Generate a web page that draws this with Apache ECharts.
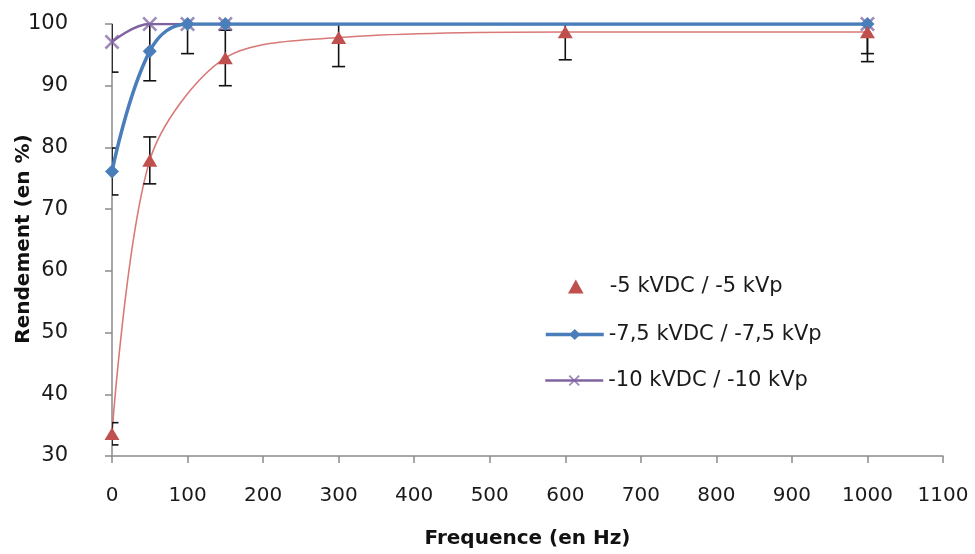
<!DOCTYPE html>
<html>
<head>
<meta charset="utf-8">
<script src="https://cdn.jsdelivr.net/npm/echarts@6/dist/echarts.min.js"></script>
<style>html,body{margin:0;padding:0;background:#fff}#c{width:975px;height:554px}</style>
</head>
<body>
<div id="c"></div>
<script>
// ---- data ----
var xTicks = [0, 100, 200, 300, 400, 500, 600, 700, 800, 900, 1000, 1100];
var yTicks = [30, 40, 50, 60, 70, 80, 90, 100];

var seriesNames = ['-5 kVDC / -5 kVp', '-7,5 kVDC / -7,5 kVp', '-10 kVDC / -10 kVp'];

var freqRed = [0, 50, 150, 300, 600, 1000];
var rendRed = [33.6, 77.9, 94.5, 97.8, 98.7, 98.7];
var errRed  = [1.8, 3.8, 4.5, 4.7, 4.5, 4.8];

var freqBlue = [0, 50, 100, 150, 1000];
var rendBlue = [76.1, 95.6, 100, 100, 100];
var errBlue  = [3.8, 4.8, 4.8, 0, 4.8];

var freqPurple = [0, 50, 100, 150, 1000];
var rendPurple = [97.1, 100, 100, 100, 100];
var errPurple  = [4.9, 0, 0, 0, 0];

// ---- build ----
function pairs(xs, ys) { return xs.map(function (x, i) { return [x, ys[i]]; }); }
var errData = [];
function addErr(xs, ys, es) {
  xs.forEach(function (x, i) { if (es[i] > 0) errData.push([x, ys[i], es[i]]); });
}
addErr(freqRed, rendRed, errRed);
addErr(freqBlue, rendBlue, errBlue);
addErr(freqPurple, rendPurple, errPurple);

var RED = '#c0504d', BLUE = '#4a7ebb', PURPLE = '#7f63a1';
var xSym = 'path://M0,1.2L1.2,0L5,3.8L8.8,0L10,1.2L6.2,5L10,8.8L8.8,10L5,6.2L1.2,10L0,8.8L3.8,5Z';
var triSym = 'path://M5,0L10,9L0,9Z';
var FONT = 'DejaVu Sans';

var chart = echarts.init(document.getElementById('c'), null, {renderer: 'canvas'});
var legendBase = {
  orient: 'vertical', padding: 0, itemWidth: 58, itemHeight: 14, itemGap: 5,
  selectedMode: false,
  textStyle: {fontFamily: FONT, fontSize: 21, color: '#1a1a1a'}
};
chart.setOption({
  animation: false,
  backgroundColor: '#fff',
  grid: {left: 112, top: 24, width: 831, height: 433, containLabel: false},
  legend: [
    Object.assign({}, legendBase, {left: 568, top: 276, data: [{name: seriesNames[0], icon: triSym}]}),
    Object.assign({}, legendBase, {left: 544, top: 324, data: [{name: seriesNames[1], lineStyle: {width: 3.5}}]}),
    Object.assign({}, legendBase, {left: 544, top: 370, data: [{name: seriesNames[2], lineStyle: {width: 2.5}}]})
  ],
  xAxis: {
    type: 'value', min: xTicks[0], max: xTicks[xTicks.length - 1], interval: 100,
    name: 'Frequence (en Hz)', nameLocation: 'middle', nameGap: 73,
    nameTextStyle: {fontFamily: FONT, fontSize: 20, fontWeight: 'bold', color: '#111'},
    axisLine: {show: true, lineStyle: {color: '#8a8a8a', width: 1.5}},
    axisTick: {show: true, length: 7, lineStyle: {color: '#8a8a8a', width: 1.5}},
    axisLabel: {margin: 30, fontFamily: FONT, fontSize: 20, color: '#1a1a1a',
      formatter: function (v) { return String(v); }},
    splitLine: {show: false}
  },
  yAxis: {
    type: 'value', min: yTicks[0], max: yTicks[yTicks.length - 1], interval: 10,
    axisLine: {show: true, lineStyle: {color: '#8a8a8a', width: 1.5}},
    axisTick: {show: true, length: 7, lineStyle: {color: '#8a8a8a', width: 1.5}},
    axisLabel: {margin: 29, fontFamily: FONT, fontSize: 21, color: '#1a1a1a',
      formatter: function (v) { return '{t|' + v + '}{s| }'; },
      rich: {
        t: {fontFamily: FONT, fontSize: 21, color: '#1a1a1a'},
        s: {fontFamily: FONT, fontSize: 21, width: 15}
      }},
    splitLine: {show: false}
  },
  graphic: [{
    type: 'text', x: 24, y: 239, rotation: Math.PI / 2,
    style: {text: 'Rendement (en %)', fontFamily: FONT, fontSize: 20, fontWeight: 'bold',
      fill: '#111', textAlign: 'center', textVerticalAlign: 'middle'}
  }],
  series: [
    {
      name: 'curveRed', type: 'line', data: pairs(freqRed, rendRed), smooth: 0.3,
      showSymbol: false, silent: true, z: 2,
      lineStyle: {color: '#d46a67', width: 1.6, opacity: 0.9}
    },
    {
      name: 'errors', type: 'custom', data: errData, clip: true, z: 3,
      renderItem: function (params, api) {
        var x = api.value(0), y = api.value(1), e = api.value(2);
        var top = api.coord([x, y + e]), bot = api.coord([x, y - e]);
        var h = 6.5;
        var st = {stroke: '#111', lineWidth: 1.6};
        return {type: 'group', children: [
          {type: 'line', shape: {x1: top[0], y1: top[1], x2: bot[0], y2: bot[1]}, style: st},
          {type: 'line', shape: {x1: top[0] - h, y1: top[1], x2: top[0] + h, y2: top[1]}, style: st},
          {type: 'line', shape: {x1: bot[0] - h, y1: bot[1], x2: bot[0] + h, y2: bot[1]}, style: st}
        ]};
      }
    },
    {
      name: seriesNames[2], type: 'line', data: pairs(freqPurple, rendPurple), smooth: 0.4,
      symbol: xSym, symbolSize: 15, z: 4,
      itemStyle: {color: PURPLE, opacity: 0.75},
      lineStyle: {color: PURPLE, width: 2.5}
    },
    {
      name: seriesNames[1], type: 'line', data: pairs(freqBlue, rendBlue), smooth: 0.4,
      symbol: 'diamond', symbolSize: 14, z: 5,
      itemStyle: {color: BLUE},
      lineStyle: {color: BLUE, width: 3.5}
    },
    {
      name: seriesNames[0], type: 'scatter', data: pairs(freqRed, rendRed),
      symbol: triSym, symbolSize: [15, 14], symbolKeepAspect: true, z: 6,
      itemStyle: {color: RED, opacity: 1}
    }
  ]
});
</script>
</body>
</html>
